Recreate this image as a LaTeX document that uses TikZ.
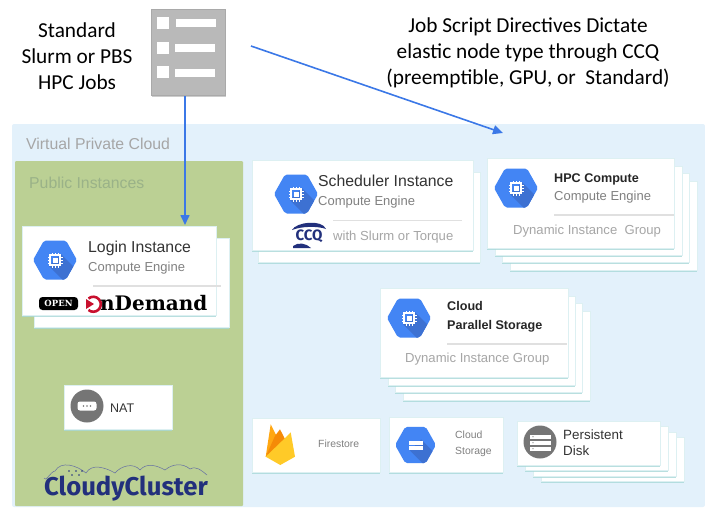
\documentclass[tikz,border=0pt]{standalone}
\usepackage{fontspec}
\setmainfont{Carlito}
\newfontfamily\cardfont{Liberation Sans}
\newfontfamily\slabfont{DejaVu Serif}
\newfontfamily\logofont{Fira Sans}
\usetikzlibrary{arrows.meta,shadows}

\definecolor{vpcblue}{HTML}{E3F1FB}
\definecolor{publicgreen}{HTML}{BBD094}
\definecolor{publictext}{HTML}{9AB288}
\definecolor{jobgray}{HTML}{B9B9B9}
\definecolor{jobedge}{HTML}{A9A9A9}
\definecolor{arrowblue}{HTML}{3B78E7}
\definecolor{hexblue}{HTML}{4385F4}
\definecolor{hexdark}{HTML}{3D71D2}
\definecolor{cardshadow}{HTML}{A8D8D8}
\definecolor{cardedge}{HTML}{DDF0F2}
\definecolor{darktext}{HTML}{333333}
\definecolor{midtext}{HTML}{808080}
\definecolor{paletext}{HTML}{A6A6A6}
\definecolor{sepgray}{HTML}{E0E0E0}
\definecolor{iconGray}{HTML}{757575}
\definecolor{logonavy}{HTML}{22307C}
\definecolor{demandred}{HTML}{C8102E}
\definecolor{flameyellow}{HTML}{FFCA28}
\definecolor{flameamber}{HTML}{FFA712}
\definecolor{flamedark}{HTML}{F58A07}

\tikzset{
  card/.style={rectangle, fill=white, draw=cardedge, line width=.4pt, anchor=north west, inner sep=0pt,
    drop shadow={shadow xshift=0pt, shadow yshift=-1.4pt, fill=cardshadow, opacity=.8}},
  blockedge/.style={-{Triangle[length=10pt,width=9pt]}, arrowblue, line width=1.6pt},
  headline/.style={font=\fontsize{21.3}{26}\selectfont, align=center, text=black, inner sep=0pt},
  areaname/.style={font=\cardfont\fontsize{15.8}{17}\selectfont, anchor=west, inner sep=0pt, yshift=-.7pt},
  cardtitle/.style={font=\cardfont\fontsize{15.8}{17}\selectfont, text=darktext, anchor=west, inner sep=0pt, yshift=-1pt},
  cardbold/.style={font=\cardfont\bfseries\fontsize{12.6}{19}\selectfont, text=black!85, anchor=west, align=left, inner sep=0pt, yshift=-1pt},
  cardsub/.style={font=\cardfont\fontsize{13}{15}\selectfont, text=midtext, anchor=west, inner sep=0pt, yshift=-1pt},
  cardpale/.style={font=\cardfont\fontsize{13.1}{15}\selectfont, text=paletext, anchor=west, inner sep=0pt, yshift=-1pt},
  cardsmall/.style={font=\cardfont\fontsize{10.4}{16}\selectfont, text=midtext, anchor=west, align=left, inner sep=0pt, yshift=-1pt},
  separator/.style={sepgray, line width=1.2pt},
  hexicon/.pic={
    \begin{scope}
      \clip[rounded corners=2pt] (-22,0) -- (-11,-19.5) -- (11,-19.5) -- (22,0) -- (11,19.5) -- (-11,19.5) -- cycle;
      \fill[hexblue] (-23,-20) rectangle (23,20);
      \fill[hexdark] (6,-6) -- (40,28) -- (28,40) -- (-6,6) -- cycle;
    \end{scope}
  },
  chipmark/.pic={
    \draw[white, line width=1.2pt] (-5,-5) rectangle (5,5);
    \fill[white] (-2.5,-2.5) rectangle (2.5,2.5);
    \foreach \p in {-3,0,3} {
      \draw[white, line width=.8pt] (\p,-5) -- (\p,-7.5) (\p,5) -- (\p,7.5);
      \draw[white, line width=.8pt] (-5,\p) -- (-7.5,\p) (5,\p) -- (7.5,\p);
    }
  }
}

\begin{document}
\begin{tikzpicture}[x=1pt,y=-1pt]
\useasboundingbox (0,0) rectangle (705,507);

% backgrounds
\fill[vpcblue, rounded corners=2pt] (12,124) rectangle (705,507);
\fill[publicgreen, rounded corners=1pt] (15,161) rectangle (243,506);
\node[areaname, text=paletext] (vpcname) at (26,143) {Virtual Private Cloud};
\node[areaname, text=publictext] (publicname) at (29,182) {Public Instances};

% job list
\node[rectangle, draw=jobedge, line width=1pt, fill=jobgray, anchor=north west, inner sep=0pt,
    minimum width=74pt, minimum height=86pt,
    drop shadow={shadow xshift=1pt, shadow yshift=-1.5pt, fill=black, opacity=.2}] (joblist) at (150.5,9) {};
\foreach \y/\b/\o in {17/19/176,42/44/175,66/69/175} {
  \fill[white] (157,\y) rectangle ++(12,12);
  \fill[white] (\o,\b) rectangle ++(40,7.5);
}

\node[headline] (jobtext) at (77,56.5) {Standard\\Slurm or PBS\\HPC Jobs};
\node[headline] (ccqtext) at (528,52.5) {Job Script Directives Dictate\\elastic node type through CCQ\\(preemptible, GPU, or\ \ Standard)};

% login
\node[card, minimum width=195pt, minimum height=89pt] (loginback) at (34,238) {};
\node[card, minimum width=194pt, minimum height=89pt] (login) at (22,226) {};
\pic at (55,260) {hexicon};
\pic at (55,260) {chipmark};
\node[cardtitle] (logintitle) at (88,247) {Login Instance};
\node[cardsub] (loginsub) at (88,267) {Compute Engine};
\draw[separator] (93,286) -- (221,286);
\node[rectangle, rounded corners=3.5pt, fill=black, text=white, inner sep=0pt, minimum width=39pt, minimum height=13pt,
    font=\slabfont\bfseries\fontsize{8.5}{10}\selectfont] (openbadge) at (58.5,303.5) {OPEN};
\draw[demandred, line width=2.6pt] (88.5,298.5) arc[start angle=-130, end angle=130, radius=7.5];
\fill[demandred] (86,299) -- (94,304) -- (86,309) -- cycle;
\node[font=\slabfont\bfseries\fontsize{20}{22}\selectfont, text=black, anchor=west, inner sep=0pt] (demandtext) at (100,303.5) {nDemand};

% scheduler
\node[card, minimum width=222pt, minimum height=90pt] (schedback) at (258,172) {};
\node[card, minimum width=221pt, minimum height=90pt] (sched) at (252,160) {};
\pic at (296,194) {hexicon};
\pic at (296,194) {chipmark};
\node[cardtitle] (schedtitle) at (318,180) {Scheduler Instance};
\node[cardsub] (schedsub) at (318,201) {Compute Engine};
\draw[separator] (333,220.5) -- (462,220.5);
\node[cardpale] (schedpale) at (333,236) {with Slurm or Torque};
\fill[logonavy] (292,230) .. controls (296,222) and (322,219) .. (326,229) .. controls (318,226) and (302,226) .. (292,230) -- cycle;
\fill[logonavy] (293,246) .. controls (298,242) and (306,243) .. (311,248) -- (293,248) -- cycle;
\node[font=\logofont\bfseries\fontsize{15}{16}\selectfont, text=logonavy, inner sep=0pt] (ccqlogo) at (309,236.5) {CCQ};

% hpc compute
\foreach \n/\x/\y in {4/510/181,3/502/173,2/495/166} {
  \node[card, minimum width=187pt, minimum height=89pt] (hpc\n) at (\x,\y) {};
}
\node[card, minimum width=187pt, minimum height=90pt] (hpc1) at (487,158) {};
\pic at (516,188) {hexicon};
\pic at (516,188) {chipmark};
\node[cardbold] (hpctitle) at (554,178) {HPC Compute};
\node[cardsub] (hpcsub) at (554,196) {Compute Engine};
\draw[separator] (554,215) -- (674,215);
\node[cardpale] (hpcpale) at (513,230) {Dynamic Instance\ \ Group};

% parallel storage
\foreach \n/\x/\y in {4/403/311,3/395/303,2/388/296} {
  \node[card, minimum width=187pt, minimum height=89pt] (par\n) at (\x,\y) {};
}
\node[card, minimum width=188pt, minimum height=89pt] (par1) at (380,288) {};
\pic at (409,318) {hexicon};
\pic at (409,318) {chipmark};
\node[cardbold] (partitle) at (447,315.5) {Cloud\\Parallel Storage};
\draw[separator] (447,344) -- (567,344);
\node[cardpale] (parpale) at (405,358) {Dynamic Instance Group};

% nat
\node[card, minimum width=108pt, minimum height=44pt] (nat) at (64,385) {};
\fill[iconGray] (87,406) circle[radius=16.5];
\fill[white, rounded corners=2.5pt] (77.5,401.5) rectangle (96.5,410.5);
\foreach \x in {83.5,87,90.5} { \fill[iconGray] (\x,406) circle[radius=.8]; }
\node[cardtitle, font=\cardfont\fontsize{12.5}{15}\selectfont] (nattext) at (110,407) {NAT};

% firestore
\node[card, minimum width=128pt, minimum height=54pt] (fire) at (252,418) {};
\fill[flameamber] (265.7,456.7) -- (270.7,424.3) -- (277,436.7) -- (274,452) -- cycle;
\fill[flamedark] (265.7,456.7) -- (275,436) -- (280,429.3) -- (286,441) -- cycle;
\fill[flameyellow] (265.7,456.7) -- (282,441) -- (290.7,432.3) -- (295,456.7) -- (280.3,465) -- cycle;
\node[cardsmall] (firetext) at (318,443) {Firestore};

% cloud storage
\node[card, minimum width=114pt, minimum height=55pt] (bucket) at (389,417) {};
\pic[scale=.93] at (415.5,445) {hexicon};
\fill[white] (408.5,440.7) rectangle (422.5,445);
\fill[white] (408.5,446) rectangle (422.5,450);
\node[cardsmall] (buckettext) at (455,443) {Cloud\\Storage};

% persistent disk
\foreach \n/\x/\y in {4/541/437,3/533/432,2/525/426} {
  \node[card, minimum width=143pt, minimum height=44pt] (disk\n) at (\x,\y) {};
}
\node[card, minimum width=143pt, minimum height=44pt] (disk1) at (517,421) {};
\fill[iconGray] (540,442) circle[radius=16.5];
\foreach \y in {434.5,440.5,446.5} {
  \fill[white] (530,\y) rectangle ++(21,4.6);
  \fill[iconGray] (533,\y+2.3) circle[radius=.6];
}
\node[cardtitle, font=\cardfont\fontsize{13.4}{16}\selectfont, align=left] (disktext) at (563,442) {Persistent\\Disk};

% cloudycluster logo
\draw[logonavy!70, line width=.5pt] (44,478) to[out=-70,in=190] (55,471) to[out=60,in=140] (86,473)
  to[out=60,in=150] (115,473) to[out=50,in=130] (140,470) to[out=50,in=150] (165,470)
  to[out=40,in=140] (190,469) to[out=30,in=140] (207,475);
\foreach \x/\y in {69/471,76/471,82/471,72/475,79/475} {
  \fill[logonavy] (\x,\y) circle[radius=.9];
}
\node[font=\logofont\bfseries\fontsize{25.7}{28}\selectfont, text=logonavy, inner sep=0pt, anchor=west] (cloudylogo) at (44,489) {CloudyCluster};

% arrows
\coordinate (logintop) at (185,225);
\coordinate (ccqstart) at (251,46);
\coordinate (ccqend) at (503,133);
\draw[blockedge] (joblist.south -| logintop) -- (logintop);
\draw[blockedge] (ccqstart) -- (ccqend);
\end{tikzpicture}
\end{document}
